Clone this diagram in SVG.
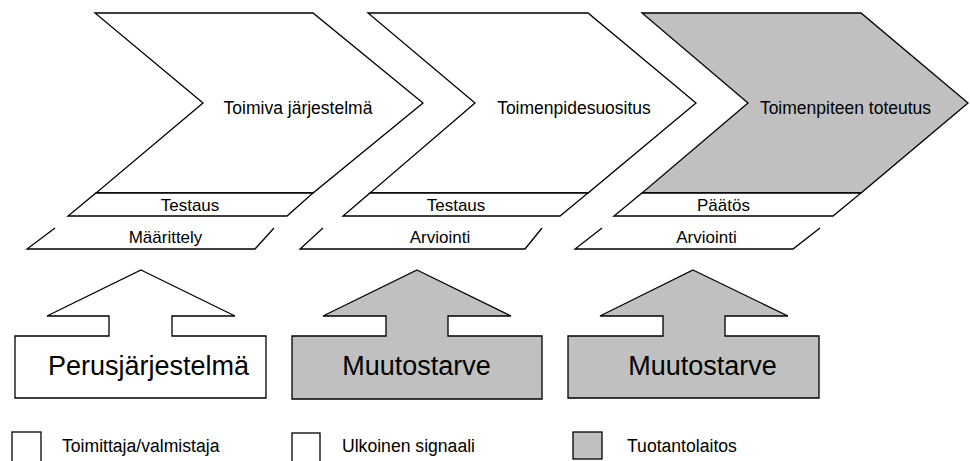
<svg xmlns="http://www.w3.org/2000/svg" width="970" height="461" viewBox="0 0 970 461">
<style>
.s{stroke:#000;stroke-width:1.3;stroke-linejoin:miter}
.w{fill:#fff}
.g{fill:#c0c0c0}
.n{fill:none}
text{font-family:"Liberation Sans",Arial,sans-serif;fill:#000}
.t{font-size:17.5px;text-anchor:middle}
.b{font-size:17px;text-anchor:middle}
.big{font-size:27px;text-anchor:middle}
.l{font-size:17.6px}
</style>
<rect width="970" height="461" fill="#fff"/>
<g id="chevron1">
<path class="s w" d="M95,13 L313,13 L423,103 L313,193 L96,193 L203,103 Z"/>
<text class="t" x="298" y="114">Toimiva järjestelmä</text>
</g>
<g id="band1">
<path class="s w" d="M96,193 L313,193 L287,216 L68,216 Z"/>
<text class="b" x="190" y="211">Testaus</text>
</g>
<g id="base1">
<path class="s n" d="M55,228 L27,249 L255,249 L274,228"/>
<text class="b" x="165.5" y="243">Määrittely</text>
</g>
<g id="chevron2">
<path class="s w" d="M368,13 L588,13 L696,103 L588,193 L370,193 L475,103 Z"/>
<text class="t" x="574" y="114">Toimenpidesuositus</text>
</g>
<g id="band2">
<path class="s w" d="M370,193 L588,193 L560,216 L343,216 Z"/>
<text class="b" x="456" y="211">Testaus</text>
</g>
<g id="base2">
<path class="s n" d="M323,228 L300,249 L525,249 L542,228"/>
<text class="b" x="440" y="243">Arviointi</text>
</g>
<g id="chevron3">
<path class="s g" d="M642,13 L861,13 L968,103 L861,193 L642,193 L748,103 Z"/>
<text class="t" x="845.5" y="114">Toimenpiteen toteutus</text>
</g>
<g id="band3">
<path class="s w" d="M642,193 L861,193 L833,216 L614,216 Z"/>
<text class="b" x="723.5" y="211">Päätös</text>
</g>
<g id="base3">
<path class="s n" d="M602,228 L575,249 L793,249 L820,228"/>
<text class="b" x="706.5" y="243">Arviointi</text>
</g>
<g id="arrow1">
<path class="s w" d="M141,270 L235,316 L172,316 L172,336 L266,336 L266,398 L15,398 L15,336 L109,336 L109,316 L47,316 Z"/>
<text class="big" x="148.5" y="375">Perusjärjestelmä</text>
</g>
<g id="arrow2">
<path class="s g" d="M417,270 L511,316 L448,316 L448,336 L542,336 L542,399 L292,399 L292,336 L386,336 L386,316 L323,316 Z"/>
<text class="big" x="416.5" y="375">Muutostarve</text>
</g>
<g id="arrow3">
<path class="s g" d="M693,270 L788,316 L725,316 L725,336 L819,336 L819,398 L568,398 L568,336 L663,336 L663,316 L600,316 Z"/>
<text class="big" x="702.5" y="375">Muutostarve</text>
</g>
<g id="legend1">
<rect class="s w" x="12" y="432" width="29" height="32"/>
<text class="l" x="62" y="452">Toimittaja/valmistaja</text>
</g>
<g id="legend2">
<rect class="s w" x="292" y="433" width="28" height="31"/>
<text class="l" x="342" y="452">Ulkoinen signaali</text>
</g>
<g id="legend3">
<rect class="s g" x="573" y="432" width="29" height="27"/>
<text class="l" x="627" y="452">Tuotantolaitos</text>
</g>
<g id="connectors"/>
</svg>
